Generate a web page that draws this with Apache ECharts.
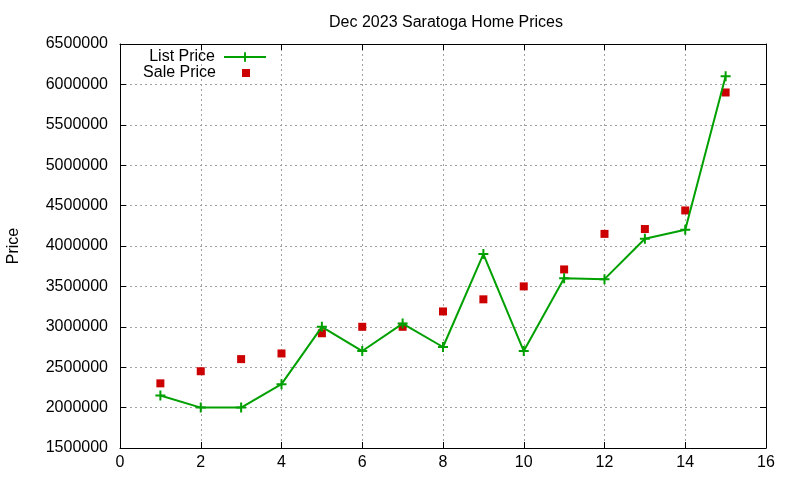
<!DOCTYPE html>
<html><head><meta charset="utf-8">
<script src="https://cdn.jsdelivr.net/npm/echarts@6/dist/echarts.min.js"></script>
<style>html,body{margin:0;padding:0;background:#fff}#c{width:800px;height:480px}</style>
</head><body><div id="c"></div>
<script>
const xValues = [1,2,3,4,5,6,7,8,9,10,11,12,13,14,15];
const listPrice = [2150000,2000000,2000000,2290000,3000000,2700000,3040000,2750000,3900000,2700000,3600000,3590000,4090000,4200000,6100000];
const salePrice = [2300000,2450000,2600000,2670000,2920000,3000000,3000000,3190000,3340000,3500000,3710000,4150000,4210000,4440000,5900000];
const titleText = 'Dec 2023 Saratoga Home Prices';
const yName = 'Price';

const FONT = 'Liberation Sans, Arial, sans-serif';
const plus = 'path://M4,0H6V4H10V6H6V10H4V6H0V4H4Z';
const grid = {left:120, right:34, top:44, bottom:32, containLabel:false, outerBoundsMode:'none'};
const split = {show:true, lineStyle:{color:'#a0a0a0', type:[2,3], width:1}};
const line = {show:true, onZero:false, lineStyle:{color:'#000', width:1}};
const tick = {show:true, inside:true, length:6, lineStyle:{color:'#000'}};

const chart = echarts.init(document.getElementById('c'), null, {renderer:'canvas'});
chart.setOption({
  animation:false,
  backgroundColor:'#fff',
  title:{text:titleText, left:441, textAlign:'center', top:10, textStyle:{fontFamily:FONT, fontSize:16, fontWeight:'normal', color:'#000'}},
  grid:grid,
  legend:[
    {data:['List Price'], right:533, top:49, itemWidth:42, itemHeight:12, align:'right', itemGap:0, padding:0,
     textStyle:{fontFamily:FONT, fontSize:16, color:'#000', padding:[0,4,0,0]}},
    {data:[{name:'Sale Price', icon:'rect'}], right:550, top:65, itemWidth:8, itemHeight:8, align:'right', itemGap:0, padding:0,
     textStyle:{fontFamily:FONT, fontSize:16, color:'#000', padding:[0,21,0,0]}}
  ],
  xAxis:[
    {type:'value', min:0, max:16, interval:2, position:'bottom', axisLine:line, axisTick:tick, splitLine:split,
     axisLabel:{fontFamily:FONT, fontSize:16, color:'#000', margin:7}},
    {type:'value', min:0, max:16, interval:2, position:'top', axisLine:line, axisTick:tick, splitLine:{show:false}, axisLabel:{show:false}}
  ],
  yAxis:[
    {type:'value', min:1500000, max:6500000, interval:500000, position:'left', axisLine:line, axisTick:tick, splitLine:split,
     axisLabel:{fontFamily:FONT, fontSize:16, color:'#000', margin:12, formatter:v=>String(v)},
     name:yName, nameLocation:'middle', nameGap:98, nameRotate:90, nameTextStyle:{fontFamily:FONT, fontSize:16, color:'#000'}},
    {type:'value', min:1500000, max:6500000, interval:500000, position:'right', axisLine:line, axisTick:tick, splitLine:{show:false}, axisLabel:{show:false}}
  ],
  series:[
    {name:'List Price', type:'line', data:xValues.map((x,i)=>[x,listPrice[i]]),
     symbol:plus, symbolSize:10, showAllSymbol:true,
     lineStyle:{color:'#00a000', width:2}, itemStyle:{color:'#00a000'}, z:3},
    {name:'Sale Price', type:'scatter', data:xValues.map((x,i)=>[x,salePrice[i]]),
     symbol:'rect', symbolSize:8, itemStyle:{color:'#cc0000', opacity:1}, z:2}
  ]
});
</script></body></html>
